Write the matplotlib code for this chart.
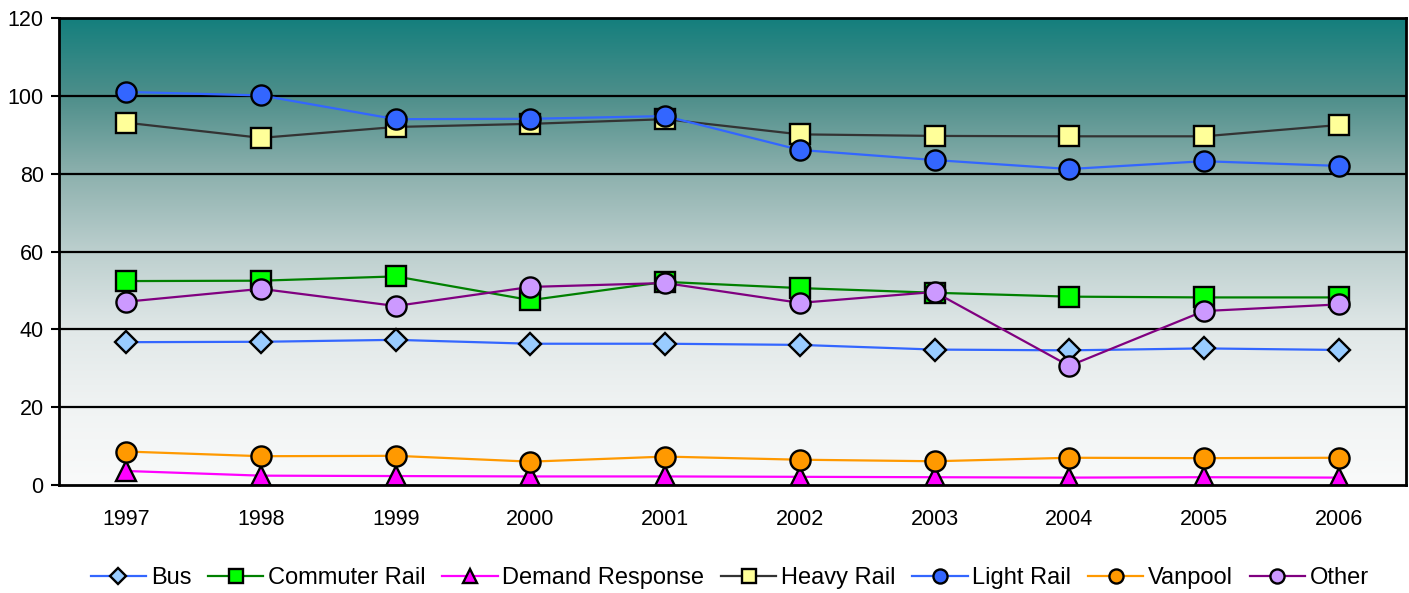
import numpy as np
import matplotlib
matplotlib.use("Agg")
import matplotlib.pyplot as plt
from matplotlib.colors import LinearSegmentedColormap

plt.rcParams['font.family'] = ['Liberation Sans', 'DejaVu Sans']

years = ['1997', '1998', '1999', '2000', '2001', '2002', '2003', '2004', '2005', '2006']

bus = [36.7, 36.8, 37.3, 36.3, 36.3, 36.0, 34.8, 34.6, 35.1, 34.7]
commuter_rail = [52.4, 52.5, 53.6, 47.5, 52.2, 50.6, 49.4, 48.4, 48.2, 48.2]
demand_response = [3.6, 2.4, 2.3, 2.2, 2.2, 2.1, 2.0, 1.9, 2.0, 1.9]
heavy_rail = [93.1, 89.2, 92.0, 92.8, 94.0, 90.1, 89.7, 89.6, 89.6, 92.5]
light_rail = [101.0, 100.1, 94.0, 94.1, 94.8, 86.1, 83.5, 81.2, 83.2, 82.0]
vanpool = [8.6, 7.4, 7.5, 6.0, 7.3, 6.5, 6.1, 7.0, 6.9, 7.0]
other = [47.1, 50.4, 46.0, 50.9, 51.9, 46.8, 49.6, 30.6, 44.7, 46.4]

series = [
    ('Bus', bus, '#3366ff', '#99ccff', 'D', 11.5),
    ('Commuter Rail', commuter_rail, '#008000', '#00ff00', 's', 14.0),
    ('Demand Response', demand_response, '#ff00ff', '#ff00ff', '^', 15.0),
    ('Heavy Rail', heavy_rail, '#333333', '#ffff99', 's', 14.0),
    ('Light Rail', light_rail, '#3366ff', '#3366ff', 'o', 14.5),
    ('Vanpool', vanpool, '#ff9900', '#ff9900', 'o', 14.5),
    ('Other', other, '#800080', '#cc99ff', 'o', 14.5),
]

fig = plt.figure(figsize=(14.09, 5.93), dpi=100)
ax = fig.add_axes([59 / 1409, 1 - 485 / 593, (1406 - 59) / 1409, (485 - 18) / 593])

x = np.arange(len(years))
ax.set_xlim(-0.5, len(years) - 0.5)
ax.set_ylim(0, 120)

# vertical gradient fill behind the plot
grad_cmap = LinearSegmentedColormap.from_list('bg', [
    (0.00, '#f9fafa'),
    (0.17, '#f0f3f3'),
    (0.33, '#e1e8e8'),
    (0.50, '#bccfce'),
    (0.67, '#8cb0ad'),
    (0.83, '#4f8f8b'),
    (1.00, '#147f7d'),
])
grad = np.linspace(0, 1, 256).reshape(-1, 1)
ax.imshow(grad, extent=(-0.5, len(years) - 0.5, 0, 120), origin='lower',
          aspect='auto', cmap=grad_cmap, zorder=0)

for yv in (20, 40, 60, 80, 100):
    ax.axhline(yv, color='black', lw=1.6, zorder=1)

for i, (name, vals, lc, fc, mk, ms) in enumerate(series):
    ax.plot(x, vals, color=lc, lw=1.6, marker=mk, markersize=ms,
            markerfacecolor=fc, markeredgecolor='black', markeredgewidth=1.7,
            label=name, zorder=3 + i)

for sp in ax.spines.values():
    sp.set_linewidth(2)
    sp.set_color('black')
    sp.set_zorder(20)

ax.set_yticks([0, 20, 40, 60, 80, 100, 120])
ax.set_xticks(x)
ax.set_xticklabels(years)
ax.tick_params(axis='y', length=6, width=1.5, labelsize=15.5, pad=5)
ax.tick_params(axis='x', length=0, labelsize=15.5, pad=17)

leg = fig.legend(loc='center', bbox_to_anchor=(0.518, 1 - 578 / 593), ncol=7,
                 frameon=False, fontsize=17, markerscale=0.7,
                 handlelength=2.35, handletextpad=0.2, columnspacing=0.7)

fig.savefig('out.png', dpi=100)
